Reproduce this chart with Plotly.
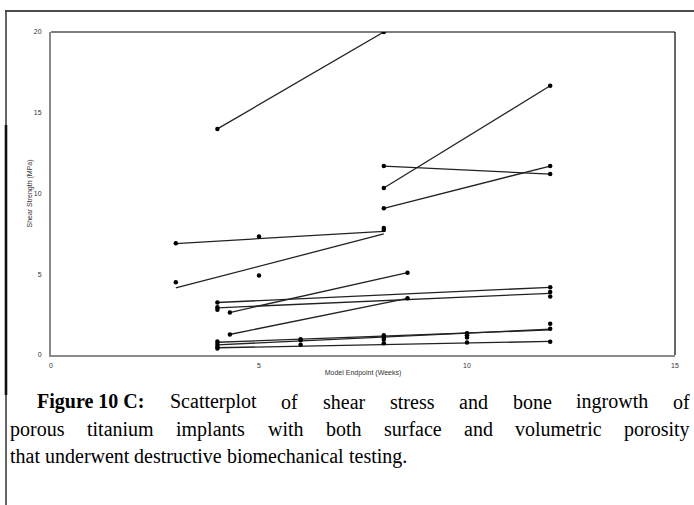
import plotly.graph_objects as go

# ---------------- data ----------------
weeks = [4, 8, 8, 8, 8, 12, 12, 12,
         3, 5, 8, 8, 3, 5,
         4, 4, 4, 4.3, 4.3, 8.57, 8.57, 12, 12, 12,
         4, 4, 4, 4, 6, 6, 6, 8, 8, 8, 8, 10, 10, 10, 10, 12, 12, 12]
shear = [14, 20, 11.7, 10.34, 9.08, 16.67, 11.7, 11.2,
         6.92, 7.33, 7.87, 7.74, 4.5, 4.92,
         3.25, 2.95, 2.8, 2.63, 1.27, 5.1, 3.51, 4.2, 3.9, 3.62,
         0.83, 0.68, 0.53, 0.4, 0.97, 0.92, 0.63, 1.23, 1.1, 0.96, 0.72,
         1.35, 1.22, 1.08, 0.77, 1.93, 1.62, 0.82]

# fitted trend segments (start week, start MPa, end week, end MPa)
fit_x0 = [4, 8, 8, 8, 3, 3, 4, 4, 4.29, 4.29, 4, 4, 4]
fit_y0 = [14, 10.34, 11.7, 9.08, 6.9, 4.15, 3.25, 2.92, 2.63, 1.27, 0.79, 0.63, 0.45]
fit_x1 = [8, 12, 12, 12, 8, 8, 12, 12, 8.57, 8.57, 12, 12, 12]
fit_y1 = [20, 16.67, 11.2, 11.7, 7.66, 7.5, 4.19, 3.82, 5.1, 3.5, 1.55, 1.6, 0.84]

x_ticks = [0, 5, 10, 15]
y_ticks = [0, 5, 10, 15, 20]

caption_line1 = [("Figure 10 C:", True), ("Scatterplot", False),
                 ("of", False), ("shear", False), ("stress", False), ("and", False),
                 ("bone", False), ("ingrowth", False), ("of", False)]
caption_line2 = "porous titanium implants with both surface and volumetric porosity"
caption_line3 = "that underwent destructive biomechanical testing."

# ---------------- layout helpers ----------------
W, H = 694, 505
ML, MR, MT, MB = 51, 19, 32, 150
PW, PH = W - ML - MR, H - MT - MB


def px(x):
    return (x - ML) / PW


def py(y):
    return (H - MB - y) / PH


REG = {' ': 250, '.': 250, ':': 278, 'a': 444, 'b': 500, 'c': 444, 'd': 500, 'e': 444,
       'f': 333, 'g': 500, 'h': 500, 'i': 278, 'j': 278, 'k': 500, 'l': 278, 'm': 778,
       'n': 500, 'o': 500, 'p': 500, 'q': 500, 'r': 333, 's': 389, 't': 278, 'u': 500,
       'v': 500, 'w': 722, 'x': 500, 'y': 500, 'z': 444, 'S': 556}
BOLD = {' ': 250, ':': 333, 'F': 611, 'i': 278, 'g': 500, 'u': 556, 'r': 444, 'e': 444,
        'C': 722}


def tw(word, bold, size):
    table = BOLD if bold else REG
    return sum(table.get(c, 500) for c in word) / 1000 * size


FS = 20
SERIF = "Liberation Serif, Times New Roman, serif"

# ---------------- figure ----------------
fig = go.Figure()

lx, ly = [], []
for a, b, c, d in zip(fit_x0, fit_y0, fit_x1, fit_y1):
    lx += [a, c, None]
    ly += [b, d, None]
fig.add_trace(go.Scatter(x=lx, y=ly, mode="lines",
                         line=dict(color="#222222", width=1.3),
                         hoverinfo="skip", showlegend=False))
fig.add_trace(go.Scatter(x=weeks, y=shear, mode="markers",
                         marker=dict(color="black", size=4.5),
                         showlegend=False))

axfont = dict(family="Liberation Sans, Arial, sans-serif", size=7, color="#333333")
fig.update_xaxes(range=[0, 15], tickvals=x_ticks, showgrid=False, zeroline=False,
                 showline=True, linecolor="#8a8a8a", linewidth=2, ticks="",
                 tickfont=axfont, ticklabelstandoff=3,
                 title=dict(text="Model Endpoint (Weeks)", font=axfont, standoff=2))
fig.update_yaxes(range=[0, 20], tickvals=y_ticks, showgrid=False, zeroline=False,
                 showline=True, linecolor="#8a8a8a", linewidth=2, ticks="",
                 tickfont=axfont, ticklabelstandoff=6,
                 title=dict(text="Shear Strength (MPa)", font=axfont, standoff=0))

shapes = [
    # top and right frame of the plot
    dict(type="line", xref="paper", yref="paper", x0=0, x1=1, y0=1, y1=1,
         line=dict(color="black", width=1.2)),
    dict(type="line", xref="paper", yref="paper", x0=1, x1=1, y0=0, y1=1,
         line=dict(color="black", width=1.2)),
    # outer document border
    dict(type="line", xref="paper", yref="paper", x0=px(5), x1=px(694), y0=py(11), y1=py(11),
         line=dict(color="#111111", width=1.6)),
    dict(type="line", xref="paper", yref="paper", x0=px(6), x1=px(6), y0=py(11), y1=py(505),
         line=dict(color="#333333", width=1.5)),
    dict(type="line", xref="paper", yref="paper", x0=px(6), x1=px(6), y0=py(125), y1=py(395),
         line=dict(color="#111111", width=2.6)),
]

annotations = []


def place_words(words, x_start, x_end, y_center, justify=True):
    widths = [tw(w, b, FS) for w, b in words]
    if justify and len(words) > 1:
        gap = (x_end - x_start - sum(widths)) / (len(words) - 1)
    else:
        gap = tw(' ', False, FS)
    x = x_start
    for (w, b), wd in zip(words, widths):
        annotations.append(dict(
            text=f"<b>{w}</b>" if b else w, x=px(x), y=py(y_center),
            xref="paper", yref="paper", xanchor="left", yanchor="middle",
            showarrow=False, borderpad=0, borderwidth=0,
            font=dict(family=SERIF, size=FS, color="black")))
        x += wd + gap


place_words(caption_line1, 37, 690, 402)
place_words([(w, False) for w in caption_line2.split()], 10, 690, 429)
place_words([(w, False) for w in caption_line3.split()], 10, 690, 456, justify=False)

fig.update_layout(
    width=W, height=H,
    margin=dict(l=ML, r=MR, t=MT, b=MB),
    paper_bgcolor="white", plot_bgcolor="white",
    shapes=shapes, annotations=annotations,
    showlegend=False,
)

fig.write_html("out.html")
